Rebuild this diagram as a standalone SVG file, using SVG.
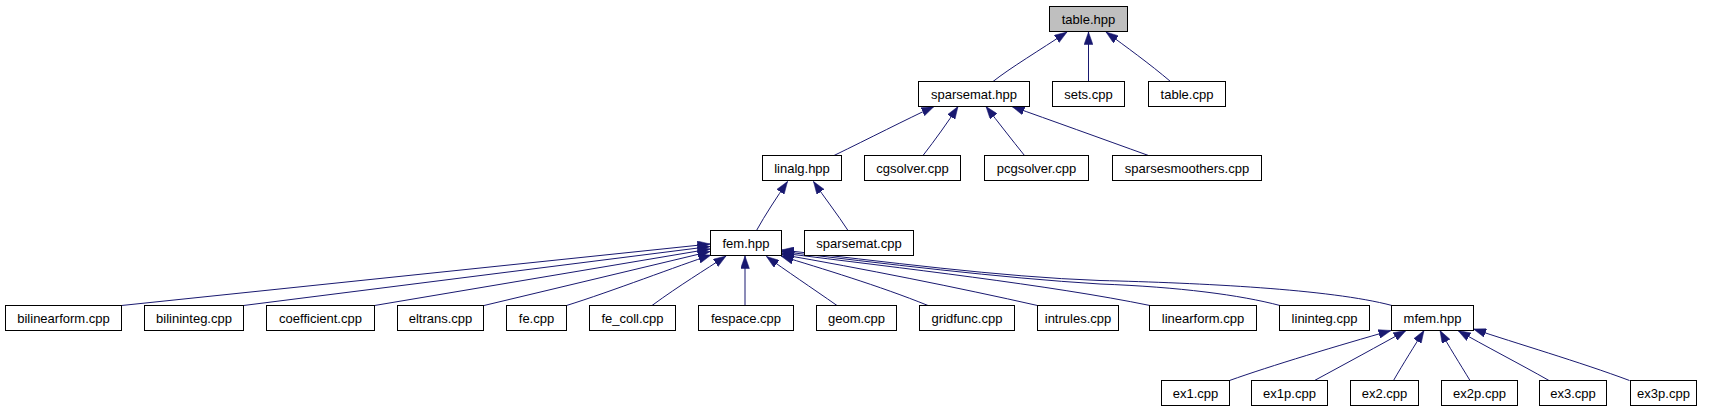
<svg xmlns="http://www.w3.org/2000/svg" width="1711" height="411" viewBox="0 0 1711 411">
<style>
.n rect{fill:#ffffff;stroke:#000000;stroke-width:1}
.n.root rect{fill:#bfbfbf}
.n text{font-family:"Liberation Sans",Arial,sans-serif;font-size:13px;fill:#000000;text-anchor:middle}
.e path{fill:none;stroke:#191970;stroke-width:1;marker-end:url(#ah)}
</style>
<defs>
<marker id="ah" markerUnits="userSpaceOnUse" markerWidth="13" markerHeight="9" refX="12.5" refY="4.4" orient="auto">
<path d="M0,0 L12.5,4.4 L0,8.8 z" fill="#191970" stroke="#191970" stroke-width="0.5"/>
</marker>
</defs>
<rect x="0" y="0" width="1711" height="411" fill="#ffffff"/>
<g id="edges" class="e">
<path d="M993,81.5 C1010,68 1040,50 1067,32"/>
<path d="M1088.5,81.5 L1088.5,32"/>
<path d="M1170.5,81.5 C1150,64 1125,46 1106,32"/>
<path d="M834,155.5 C870,138 905,120 934,106.5"/>
<path d="M923,155.5 C935,140 948,122 958,106.5"/>
<path d="M1024.5,155.5 C1012,140 998,122 986,106.5"/>
<path d="M1148.5,155.5 C1100,138 1050,120 1012,106.5"/>
<path d="M756.5,230.5 C765,215 777,197 787.5,181.5"/>
<path d="M848,230.5 C838,215 824,197 813.5,181.5"/>
<path d="M121.5,305.5 L710,244"/>
<path d="M243.5,305.5 L710,246.5"/>
<path d="M374.5,305.5 L710,249"/>
<path d="M484,305.5 L710,251.5"/>
<path d="M566.5,305.5 C610,292 680,265 711,255"/>
<path d="M652,305.5 C680,285 705,270 726,256"/>
<path d="M745,305.5 L745,256"/>
<path d="M837,305.5 C812,288 785,270 766.5,256.5"/>
<path d="M928,305.5 C880,286 820,268 781,256"/>
<path d="M1037.5,305.5 C960,288 860,268 781.5,254.5"/>
<path d="M1150,305.5 C1050,285 900,268 781.5,253"/>
<path d="M1280,305.5 C1240,295 1180,287 1100,284 C1000,278 880,263 781.5,251.5"/>
<path d="M1392,305.5 C1330,289 1200,283 1100,280.5 C1000,277 880,261 781.5,250"/>
<path d="M1229.5,380.5 C1270,366 1340,345 1391,330.5"/>
<path d="M1314.5,380.5 C1345,364 1380,345 1406,330.5"/>
<path d="M1393.5,380.5 C1403,364 1415,345 1424,330.5"/>
<path d="M1470,380.5 C1460,364 1448,345 1440,330.5"/>
<path d="M1549,380.5 C1520,364 1483,345 1458,330.5"/>
<path d="M1629.5,380.5 C1580,362 1515,343 1473.5,329"/>
</g>
<g id="table_hpp" class="n root"><rect x="1049.5" y="6.5" width="78" height="25"/><text x="1088.5" y="23.5">table.hpp</text></g>
<g id="sparsemat_hpp" class="n"><rect x="918.5" y="81.5" width="111" height="25"/><text x="974" y="98.5">sparsemat.hpp</text></g>
<g id="sets_cpp" class="n"><rect x="1052.5" y="81.5" width="72" height="25"/><text x="1088.5" y="98.5">sets.cpp</text></g>
<g id="table_cpp" class="n"><rect x="1148.5" y="81.5" width="77" height="25"/><text x="1187" y="98.5">table.cpp</text></g>
<g id="linalg_hpp" class="n"><rect x="762.5" y="155.5" width="79" height="25"/><text x="802" y="172.5">linalg.hpp</text></g>
<g id="cgsolver_cpp" class="n"><rect x="864.5" y="155.5" width="96" height="25"/><text x="912.5" y="172.5">cgsolver.cpp</text></g>
<g id="pcgsolver_cpp" class="n"><rect x="984.5" y="155.5" width="104" height="25"/><text x="1036.5" y="172.5">pcgsolver.cpp</text></g>
<g id="sparsesmoothers_cpp" class="n"><rect x="1112.5" y="155.5" width="149" height="25"/><text x="1187" y="172.5">sparsesmoothers.cpp</text></g>
<g id="fem_hpp" class="n"><rect x="710.5" y="230.5" width="71" height="25"/><text x="746" y="247.5">fem.hpp</text></g>
<g id="sparsemat_cpp" class="n"><rect x="804.5" y="230.5" width="109" height="25"/><text x="859" y="247.5">sparsemat.cpp</text></g>
<g id="bilinearform_cpp" class="n"><rect x="5.5" y="305.5" width="116" height="25"/><text x="63.5" y="322.5">bilinearform.cpp</text></g>
<g id="bilininteg_cpp" class="n"><rect x="144.5" y="305.5" width="99" height="25"/><text x="194" y="322.5">bilininteg.cpp</text></g>
<g id="coefficient_cpp" class="n"><rect x="266.5" y="305.5" width="108" height="25"/><text x="320.5" y="322.5">coefficient.cpp</text></g>
<g id="eltrans_cpp" class="n"><rect x="397.5" y="305.5" width="86" height="25"/><text x="440.5" y="322.5">eltrans.cpp</text></g>
<g id="fe_cpp" class="n"><rect x="506.5" y="305.5" width="60" height="25"/><text x="536.5" y="322.5">fe.cpp</text></g>
<g id="fe_coll_cpp" class="n"><rect x="589.5" y="305.5" width="86" height="25"/><text x="632.5" y="322.5">fe_coll.cpp</text></g>
<g id="fespace_cpp" class="n"><rect x="698.5" y="305.5" width="95" height="25"/><text x="746" y="322.5">fespace.cpp</text></g>
<g id="geom_cpp" class="n"><rect x="816.5" y="305.5" width="80" height="25"/><text x="856.5" y="322.5">geom.cpp</text></g>
<g id="gridfunc_cpp" class="n"><rect x="919.5" y="305.5" width="95" height="25"/><text x="967" y="322.5">gridfunc.cpp</text></g>
<g id="intrules_cpp" class="n"><rect x="1037.5" y="305.5" width="81" height="25"/><text x="1078" y="322.5">intrules.cpp</text></g>
<g id="linearform_cpp" class="n"><rect x="1149.5" y="305.5" width="107" height="25"/><text x="1203" y="322.5">linearform.cpp</text></g>
<g id="lininteg_cpp" class="n"><rect x="1279.5" y="305.5" width="90" height="25"/><text x="1324.5" y="322.5">lininteg.cpp</text></g>
<g id="mfem_hpp" class="n"><rect x="1391.5" y="305.5" width="82" height="25"/><text x="1432.5" y="322.5">mfem.hpp</text></g>
<g id="ex1_cpp" class="n"><rect x="1161.5" y="380.5" width="68" height="25"/><text x="1195.5" y="397.5">ex1.cpp</text></g>
<g id="ex1p_cpp" class="n"><rect x="1251.5" y="380.5" width="76" height="25"/><text x="1289.5" y="397.5">ex1p.cpp</text></g>
<g id="ex2_cpp" class="n"><rect x="1350.5" y="380.5" width="68" height="25"/><text x="1384.5" y="397.5">ex2.cpp</text></g>
<g id="ex2p_cpp" class="n"><rect x="1441.5" y="380.5" width="76" height="25"/><text x="1479.5" y="397.5">ex2p.cpp</text></g>
<g id="ex3_cpp" class="n"><rect x="1539.5" y="380.5" width="67" height="25"/><text x="1573" y="397.5">ex3.cpp</text></g>
<g id="ex3p_cpp" class="n"><rect x="1630.5" y="380.5" width="66" height="25"/><text x="1663.5" y="397.5">ex3p.cpp</text></g>
</svg>
